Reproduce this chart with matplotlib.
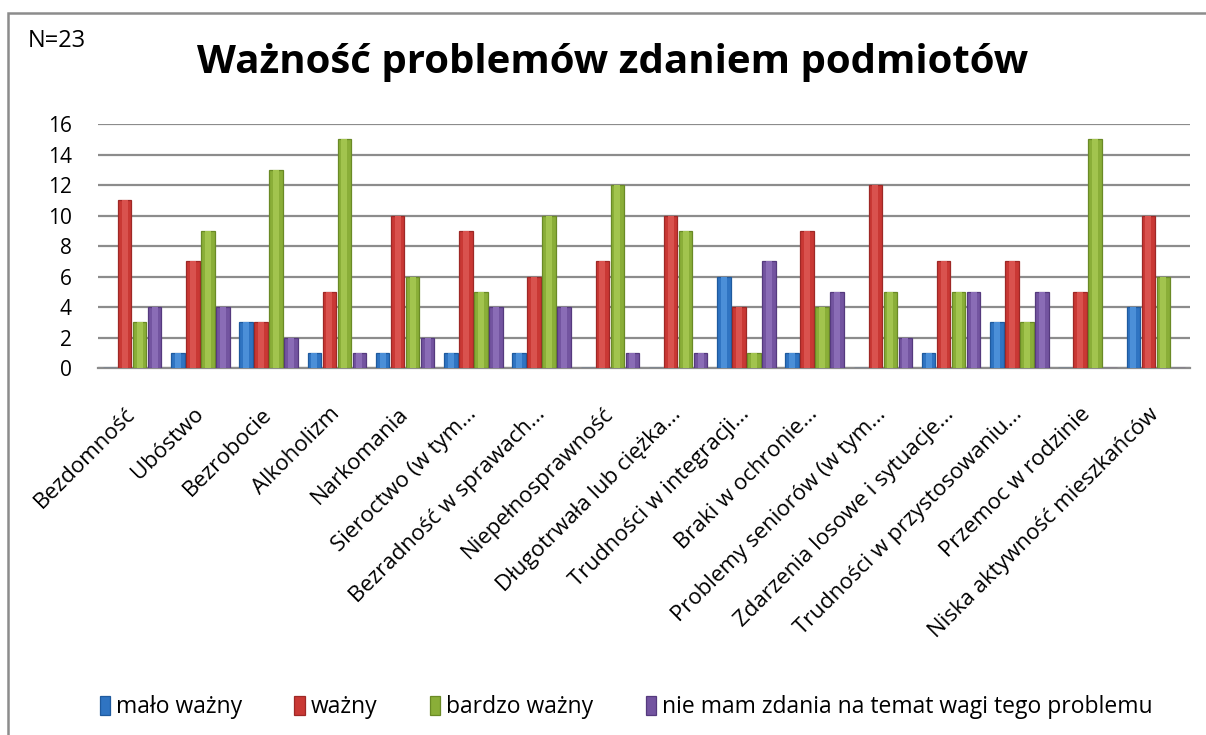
import matplotlib
matplotlib.use("Agg")
import matplotlib.pyplot as plt
import numpy as np
from matplotlib.patches import Rectangle

categories = ["Bezdomność", "Ubóstwo", "Bezrobocie", "Alkoholizm", "Narkomania",
              "Sieroctwo (w tym...", "Bezradność w sprawach...", "Niepełnosprawność",
              "Długotrwała lub ciężka...", "Trudności w integracji...", "Braki w ochronie...",
              "Problemy seniorów (w tym...", "Zdarzenia losowe i sytuacje...",
              "Trudności w przystosowaniu...", "Przemoc w rodzinie", "Niska aktywność mieszkańców"]
series_names = ["mało ważny", "ważny", "bardzo ważny", "nie mam zdania na temat wagi tego problemu"]
malo_wazny = [0, 1, 3, 1, 1, 1, 1, 0, 0, 6, 1, 0, 1, 3, 0, 4]
wazny = [11, 7, 3, 5, 10, 9, 6, 7, 10, 4, 9, 12, 7, 7, 5, 10]
bardzo_wazny = [3, 9, 13, 15, 6, 5, 10, 12, 9, 1, 4, 5, 5, 3, 15, 6]
nie_mam_zdania = [4, 4, 2, 1, 2, 4, 4, 1, 1, 7, 5, 2, 5, 5, 0, 0]
yticks = [0, 2, 4, 6, 8, 10, 12, 14, 16]

dark = ["#1F5A9E", "#9E2826", "#6A8A26", "#553A7E"]
mid = ["#2F74C2", "#C93834", "#8AAE38", "#7354A0"]
light = ["#4B8FD8", "#D9524E", "#A2C44E", "#8A6CB6"]

plt.rcParams['font.family'] = ['Open Sans', 'DejaVu Sans']

fig = plt.figure(figsize=(12.06, 7.35), dpi=100)
ax = fig.add_axes([98/1206, 1-368/735, (1190-98)/1206, (368-124)/735])

x = np.arange(len(categories))
slot = 0.22
bw = 0.2
all_series = [malo_wazny, wazny, bardzo_wazny, nie_mam_zdania]
for i, (vals, name) in enumerate(zip(all_series, series_names)):
    pos = x + (i - 1.5) * slot
    ax.bar(pos, vals, width=bw, color=mid[i], edgecolor=dark[i], linewidth=0.9,
           label=name, zorder=3)
    ax.bar(pos, vals, width=bw * 0.45, color=light[i], linewidth=0, zorder=4)

ax.set_xlim(-0.5, len(categories) - 0.5)
ax.set_ylim(0, 16)
ax.set_yticks(yticks)
ax.set_yticklabels([str(t) for t in yticks], fontsize=15)
ax.yaxis.grid(True, color="#8c8c8c", linewidth=1.6, zorder=0)
ax.set_axisbelow(True)
for s in ["top", "right", "left"]:
    ax.spines[s].set_visible(False)
ax.spines["bottom"].set_color("#8c8c8c")
ax.spines["bottom"].set_linewidth(1.6)
ax.tick_params(axis="both", length=0)
ax.tick_params(axis="y", pad=19)
ax.set_xticks(x)
ax.set_xticklabels(categories, rotation=45, ha="right", va="center",
                   rotation_mode="anchor", fontsize=16)
ax.tick_params(axis="x", pad=31)

fig.text(613/1206, 1-62/735, "Ważność problemów zdaniem podmiotów", ha="center", va="center",
         fontsize=29, fontweight="bold")
fig.text(28/1206, 1-41/735, "N=23", ha="left", va="center", fontsize=17)

fig.legend(loc="center", bbox_to_anchor=(626/1206, 1-707/735), ncol=4, frameon=False,
           fontsize=16.5, handlelength=0.45, handleheight=0.9, handletextpad=0.25,
           columnspacing=2.3)

border = Rectangle((8/1206, -0.1), 1.2, 1-13/735+0.1, transform=fig.transFigure,
                   fill=False, edgecolor="#8c8c8c", linewidth=1.8)
fig.patches.append(border)

fig.savefig("out.png", dpi=100)
